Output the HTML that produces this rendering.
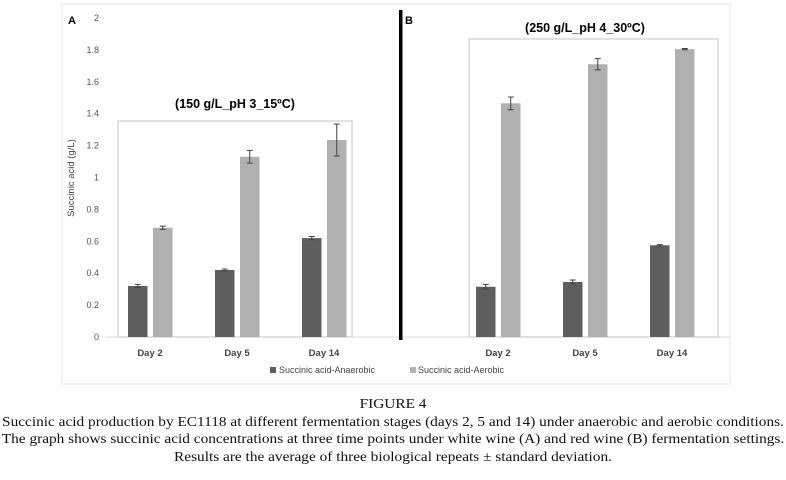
<!DOCTYPE html>
<html><head><meta charset="utf-8"><style>
body{margin:0;width:786px;height:480px;background:#fff;overflow:hidden;position:relative}
svg{position:absolute;left:0;top:0}
.cap{position:absolute;left:0;width:786px;text-align:center;font-family:"Liberation Serif",serif;font-size:14px;color:#111;line-height:17.5px;transform:scaleX(1.095);transform-origin:393px 0}
</style></head><body>
<svg id="chart" width="786" height="390" font-family="Liberation Sans, sans-serif"></svg>
<div class="cap" style="top:396px">FIGURE 4<br>Succinic acid production by EC1118 at different fermentation stages (days 2, 5 and 14) under anaerobic and aerobic conditions.<br>The graph shows succinic acid concentrations at three time points under white wine (A) and red wine (B) fermentation settings.<br>Results are the average of three biological repeats ± standard deviation.</div>
<script>
const categories=["Day 2","Day 5","Day 14"];
const yTicks=[0,0.2,0.4,0.6,0.8,1,1.2,1.4,1.6,1.8,2];
const yTickLabels=["0","0.2","0.4","0.6","0.8","1","1.2","1.4","1.6","1.8","2"];
const aAnaerobic=[0.32,0.42,0.62];
const aAnaerobicErr=[0.01,0.006,0.01];
const aAerobic=[0.685,1.13,1.235];
const aAerobicErr=[0.01,0.04,0.1];
const bAnaerobic=[0.315,0.345,0.575];
const bAnaerobicErr=[0.015,0.012,0.004];
const bAerobic=[1.465,1.71,1.805];
const bAerobicErr=[0.04,0.035,0.004];
const svg=document.getElementById('chart');
const NS='http://www.w3.org/2000/svg';
function mk(t,a,txt){const e=document.createElementNS(NS,t);for(const k in a)e.setAttribute(k,a[k]);if(txt!==undefined)e.textContent=txt;svg.appendChild(e);return e;}
const y0=337,yTop=18;
function y(v){return y0-(v/2)*(y0-yTop);}
let e=mk('rect',{x:62,y:4,width:668,height:380,fill:'none',stroke:'#e4e4e4'});

yTicks.forEach((v,i)=>{const t=mk('text',{x:99,y:y(v)+3,'font-size':9,fill:'#555','text-anchor':'end'},yTickLabels[i]);
});
e=mk('text',{x:74,y:178,'font-size':9.5,fill:'#444','text-anchor':'middle',transform:'rotate(-90 74 178)'},'Succinic acid (g/L)');

e=mk('line',{x1:105,y1:y0,x2:730,y2:y0,stroke:'#d9d9d9'});

e=mk('rect',{x:399,y:10,width:3.5,height:330,fill:'#000'});

function panel(id,letter,lx,box,title,tx,ty,centers,an,anE,ae,aeE){
  let r=mk('rect',{x:box[0],y:box[1],width:box[2]-box[0],height:y0-box[1],fill:'none',stroke:'#d9d9d9','stroke-width':1.5});
  
  let t=mk('text',{x:lx,y:24,'font-size':11,'font-weight':'bold',fill:'#000'},letter);
  
  t=mk('text',{x:tx,y:ty,'font-size':12.5,'font-weight':'bold',fill:'#000','text-anchor':'middle'},title);
  
  categories.forEach((c,i)=>{
    const cx=centers[i];
    const l=mk('text',{x:cx,y:356,'font-size':9.5,'font-weight':'bold',fill:'#444','text-anchor':'middle'},c);
    
    [[an,anE,'#5e5e5e',-22,'anaerobic'],[ae,aeE,'#b0b0b0',3,'aerobic']].forEach(s=>{
      const v=s[0][i],er=s[1][i],bx=cx+s[3];
      const b=mk('rect',{x:bx,y:y(v),width:19.5,height:y0-y(v),fill:s[2]});
      
      
      const m=bx+9.75;
      const eb=mk('path',{d:`M${m},${y(v+er)}V${y(v-er)}M${m-3},${y(v+er)}H${m+3}M${m-3},${y(v-er)}H${m+3}`,stroke:'#444','stroke-width':1,fill:'none'});
      
    });
  });
}
panel('panel-a','A',68,[118,121,352],'(150 g/L_pH 3_15ºC)',235,108,[150,237,324],aAnaerobic,aAnaerobicErr,aAerobic,aAerobicErr);
panel('panel-b','B',405,[469,39,718],'(250 g/L_pH 4_30ºC)',585,32,[498,585,672],bAnaerobic,bAnaerobicErr,bAerobic,bAerobicErr);
e=mk('rect',{x:270,y:367,width:6,height:6,fill:'#5e5e5e'});
e=mk('text',{x:279,y:373,'font-size':9,fill:'#444'},'Succinic  acid-Anaerobic');
e=mk('rect',{x:410,y:367,width:6,height:6,fill:'#b0b0b0'});
e=mk('text',{x:418,y:373,'font-size':9,fill:'#444'},'Succinic  acid-Aerobic');
</script>
</body></html>
